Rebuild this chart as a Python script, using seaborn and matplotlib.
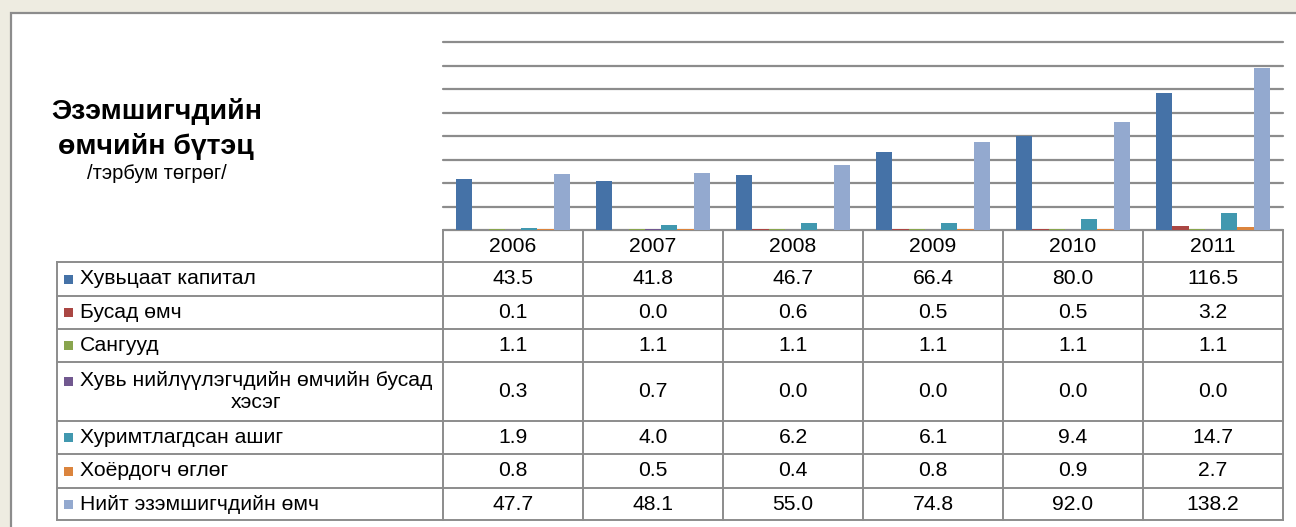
import numpy as np
import pandas as pd
import matplotlib.pyplot as plt
from matplotlib.patches import Rectangle
import seaborn as sns

years = ["2006", "2007", "2008", "2009", "2010", "2011"]
series = ["Хувьцаат капитал", "Бусад өмч", "Сангууд",
          "Хувь нийлүүлэгчдийн өмчийн бусад хэсэг",
          "Хуримтлагдсан ашиг", "Хоёрдогч өглөг", "Нийт эзэмшигчдийн өмч"]
share_capital = [43.5, 41.8, 46.7, 66.4, 80.0, 116.5]
other_equity = [0.1, 0.0, 0.6, 0.5, 0.5, 3.2]
funds = [1.1, 1.1, 1.1, 1.1, 1.1, 1.1]
other_part = [0.3, 0.7, 0.0, 0.0, 0.0, 0.0]
retained = [1.9, 4.0, 6.2, 6.1, 9.4, 14.7]
sub_debt = [0.8, 0.5, 0.4, 0.8, 0.9, 2.7]
total = [47.7, 48.1, 55.0, 74.8, 92.0, 138.2]
colors = ["#4572A7", "#AA4643", "#89A54E", "#71588F", "#4198AF", "#DB843D", "#93A9CF"]

values = [share_capital, other_equity, funds, other_part, retained, sub_debt, total]
df = pd.DataFrame([(y, s, v[i]) for s, v in zip(series, values) for i, y in enumerate(years)],
                  columns=["year", "series", "value"])

sns.set_theme(style="white")
plt.rcParams['font.family'] = ['Liberation Sans', 'DejaVu Sans']
plt.rcParams['text.color'] = 'black'

W, H = 1296, 527
fig = plt.figure(figsize=(W / 100, H / 100), dpi=100, facecolor="#EEECE1")

# background layer in pixel coordinates (panel + table)
bg = fig.add_axes([0, 0, 1, 1], zorder=0)
bg.set_xlim(0, W)
bg.set_ylim(H, 0)
bg.axis("off")
bg.add_patch(Rectangle((11, 13), W, H, facecolor="white", edgecolor="#8c8c8c", lw=1.6))

line_c = "#8c8c8c"
lw = 1.4

# title
bg.text(157, 119, "Эзэмшигчдийн", ha="center", va="baseline", fontsize=20.5, fontweight="bold")
bg.text(156, 154, "өмчийн бүтэц", ha="center", va="baseline", fontsize=20.5, fontweight="bold")
bg.text(157, 179, "/тэрбум төгрөг/", ha="center", va="baseline", fontsize=14.5)

# bar chart
left, right, top, base = 443, 1283, 42, 230
ax = fig.add_axes([left / W, 1 - base / H, (right - left) / W, (base - top) / H], zorder=1)
ax.patch.set_alpha(0)
sns.barplot(data=df, x="year", y="value", hue="series", hue_order=series, order=years,
            palette=colors, saturation=1, width=0.814, linewidth=0, errorbar=None,
            legend=False, ax=ax, zorder=3)
ax.set_xlim(-0.5, 5.5)
ax.set_ylim(0, 160)
ax.set_yticks(np.arange(0, 161, 20))
ax.yaxis.grid(True, color=line_c, lw=1.6)
ax.set_axisbelow(True)
for gl in ax.get_ygridlines():
    gl.set_clip_on(False)
ax.tick_params(length=0, labelbottom=False, labelleft=False)
ax.set_xlabel("")
ax.set_ylabel("")
for sp in ax.spines.values():
    sp.set_visible(False)

# data table
row_h = [32, 34, 33, 33, 59, 33, 34, 32]
row_edges = base + np.concatenate([[0], np.cumsum(row_h)])
col_w = (right - left) / len(years)
col_edges = left + col_w * np.arange(len(years) + 1)
lab_left = 57
fs = 15.2

for y in row_edges:
    x0 = left if y == row_edges[0] else lab_left
    bg.plot([x0, col_edges[-1]], [y, y], color=line_c, lw=lw, solid_capstyle="projecting")
bg.plot([lab_left, lab_left], [row_edges[1], row_edges[-1]], color=line_c, lw=lw)
for x in col_edges:
    bg.plot([x, x], [row_edges[0], row_edges[-1]], color=line_c, lw=lw)

for j, yr in enumerate(years):
    bg.text((col_edges[j] + col_edges[j + 1]) / 2, (row_edges[0] + row_edges[1]) / 2 + 1, yr,
            ha="center", va="center", fontsize=fs)

for i, (s, v, c) in enumerate(zip(series, values, colors)):
    y0, y1 = row_edges[i + 1], row_edges[i + 2]
    yc = (y0 + y1) / 2
    for j in range(len(years)):
        bg.text((col_edges[j] + col_edges[j + 1]) / 2, yc, f"{v[j]:.1f}",
                ha="center", va="center", fontsize=fs)
    if s.endswith("хэсэг"):
        ly = y0 + 19
        bg.text(80, ly, s.replace(" хэсэг", ""), ha="left", va="center", fontsize=fs)
        bg.text((lab_left + left) / 2 + 6, ly + 22, "хэсэг", ha="center", va="center", fontsize=fs)
    else:
        ly = yc
        bg.text(80, ly, s, ha="left", va="center", fontsize=fs)
    bg.add_patch(Rectangle((64, ly - 4.5), 9, 9, facecolor=c, edgecolor="none"))

fig.savefig("out.png", dpi=100, facecolor=fig.get_facecolor())
